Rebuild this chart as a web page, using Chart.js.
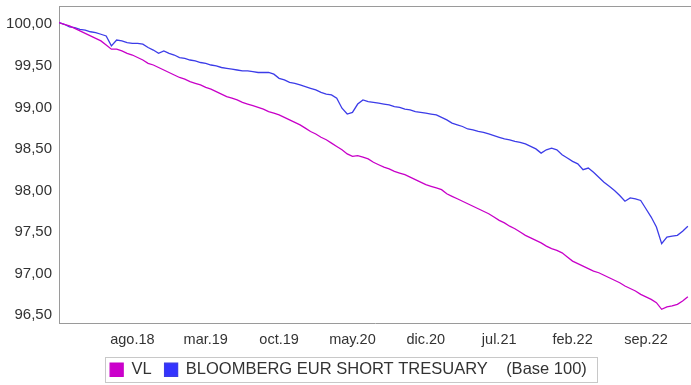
<!DOCTYPE html>
<html>
<head>
<meta charset="utf-8">
<script src="https://cdn.jsdelivr.net/npm/chart.js@4"></script>
<style>
  html, body { margin: 0; padding: 0; background: #fff; }
</style>
</head>
<body>
<canvas id="nav-chart" width="691" height="385"></canvas>
<script>
// Month index of each x tick (0 = start of jan.18) and its label
const tickPos = [7, 14, 21, 28, 35, 42, 49, 56];
const tickLabels = ['ago.18', 'mar.19', 'oct.19', 'may.20', 'dic.20', 'jul.21', 'feb.22', 'sep.22'];
const yTicks = [96.5, 97, 97.5, 98, 98.5, 99, 99.5, 100];

// Base 100 values, one every half month from jan.18
const vl = [
  100.02, 100.00, 99.98, 99.95, 99.92, 99.89, 99.86, 99.83, 99.80, 99.75,
  99.70, 99.70, 99.68, 99.65, 99.63, 99.60, 99.57, 99.53, 99.51, 99.48,
  99.45, 99.42, 99.39, 99.36, 99.34, 99.31, 99.29, 99.27, 99.24, 99.22,
  99.19, 99.16, 99.13, 99.11, 99.09, 99.06, 99.04, 99.02, 99.00, 98.98,
  98.95, 98.93, 98.91, 98.88, 98.85, 98.82, 98.79, 98.75, 98.71, 98.68,
  98.64, 98.61, 98.57, 98.53, 98.49, 98.44, 98.41, 98.42, 98.40, 98.38,
  98.34, 98.31, 98.28, 98.26, 98.23, 98.21, 98.19, 98.16, 98.13, 98.10,
  98.07, 98.05, 98.03, 98.01, 97.96, 97.93, 97.90, 97.87, 97.84, 97.81,
  97.78, 97.75, 97.72, 97.68, 97.64, 97.61, 97.57, 97.54, 97.50, 97.46,
  97.43, 97.40, 97.37, 97.33, 97.30, 97.28, 97.25, 97.20, 97.15, 97.12,
  97.09, 97.06, 97.03, 97.01, 96.98, 96.95, 96.92, 96.89, 96.85, 96.82,
  96.79, 96.75, 96.72, 96.69, 96.65, 96.57, 96.60, 96.61, 96.63, 96.67,
  96.72
];
const bloomberg = [
  100.02, 100.00, 99.97, 99.96, 99.94, 99.93, 99.91, 99.90, 99.88, 99.86,
  99.74, 99.81, 99.80, 99.78, 99.77, 99.77, 99.76, 99.72, 99.69, 99.65,
  99.68, 99.65, 99.63, 99.60, 99.59, 99.57, 99.56, 99.54, 99.53, 99.51,
  99.50, 99.48, 99.47, 99.46, 99.45, 99.44, 99.44, 99.43, 99.42, 99.42,
  99.42, 99.40, 99.35, 99.33, 99.30, 99.29, 99.27, 99.25, 99.23, 99.21,
  99.18, 99.16, 99.15, 99.11, 98.99, 98.92, 98.94, 99.04, 99.09, 99.07,
  99.06, 99.05, 99.04, 99.03, 99.01, 99.00, 98.98, 98.97, 98.95, 98.94,
  98.93, 98.92, 98.91, 98.88, 98.85, 98.81, 98.79, 98.77, 98.74, 98.73,
  98.71, 98.70, 98.68, 98.66, 98.64, 98.62, 98.61, 98.59, 98.58, 98.56,
  98.53, 98.50, 98.45, 98.49, 98.51, 98.49, 98.43, 98.39, 98.35, 98.32,
  98.25, 98.27, 98.22, 98.16, 98.10, 98.05, 98.00, 97.94, 97.87, 97.91,
  97.90, 97.88, 97.78, 97.68, 97.56, 97.36, 97.44, 97.45, 97.46, 97.51,
  97.57
];
const baseNote = '(Base 100)';

const toPoints = arr => arr.map((v, i) => ({ x: i / 2, y: v }));
const fmt = v => v.toFixed(2).replace('.', ',');
const textColor = '#333333';
const axisColor = '#9a9a9a';
const fontFamily = 'Liberation Sans, Arial, sans-serif';

// top edge of the plot frame, and the outline round the legend
const framePlugin = {
  id: 'frame',
  afterDraw(chart) {
    const { ctx, chartArea } = chart;
    ctx.save();
    ctx.strokeStyle = axisColor;
    ctx.lineWidth = 1;
    ctx.beginPath();
    ctx.moveTo(chartArea.left, chartArea.top + 0.5);
    ctx.lineTo(chartArea.right, chartArea.top + 0.5);
    ctx.stroke();

    const boxes = chart.legend.legendHitBoxes;
    if (boxes && boxes.length) {
      const l = Math.min(...boxes.map(b => b.left)) - 5;
      const r = Math.max(...boxes.map(b => b.left + b.width)) + 10;
      const t = Math.min(...boxes.map(b => b.top)) - 5;
      const btm = Math.max(...boxes.map(b => b.top + b.height)) + 3;
      ctx.strokeStyle = '#c8c8c8';
      ctx.strokeRect(Math.round(l) + 0.5, Math.round(t) + 0.5, Math.round(r - l), Math.round(btm - t));
    }
    ctx.restore();
  }
};

new Chart(document.getElementById('nav-chart'), {
  type: 'line',
  data: {
    datasets: [{
      label: 'VL',
      data: toPoints(vl),
      borderColor: '#c800c8',
      backgroundColor: '#cc00cc',
      borderWidth: 1.3,
      pointRadius: 0,
      tension: 0
    }, {
      label: 'BLOOMBERG EUR SHORT TRESUARY',
      data: toPoints(bloomberg),
      borderColor: '#3c3ce8',
      backgroundColor: '#3333ff',
      borderWidth: 1.3,
      pointRadius: 0,
      tension: 0
    }]
  },
  options: {
    responsive: false,
    animation: false,
    layout: { padding: { left: 6, top: 6, right: 0, bottom: -3 } },
    scales: {
      x: {
        type: 'linear',
        min: 0,
        max: 60.3,
        grid: { display: false, drawTicks: false },
        border: { display: true, color: axisColor },
        afterBuildTicks: scale => { scale.ticks = tickPos.map(v => ({ value: v })); },
        // keep the padding above the labels only
        afterFit: scale => { scale.height -= 8; },
        ticks: {
          padding: 8,
          color: textColor,
          font: { family: fontFamily, size: 14.5 },
          callback: value => tickLabels[tickPos.indexOf(value)]
        }
      },
      y: {
        min: 96.404,
        max: 100.22,
        grid: { display: false, drawTicks: false },
        border: { display: true, color: axisColor },
        afterBuildTicks: scale => { scale.ticks = yTicks.map(v => ({ value: v })); },
        afterFit: scale => {
          scale.width = 53;
          scale.paddingTop = 0;
          scale.paddingBottom = 0;
        },
        ticks: {
          padding: 7,
          color: textColor,
          font: { family: fontFamily, size: 15 },
          callback: value => fmt(value)
        }
      }
    },
    plugins: {
      tooltip: { enabled: false },
      legend: {
        position: 'bottom',
        labels: {
          boxWidth: 13,
          boxHeight: 13,
          padding: 13,
          color: textColor,
          font: { family: fontFamily, size: 16.5 },
          generateLabels(chart) {
            const items = Chart.defaults.plugins.legend.labels.generateLabels(chart);
            items[items.length - 1].text += '    ' + baseNote;
            return items;
          }
        }
      }
    }
  },
  plugins: [framePlugin]
});
</script>
</body>
</html>
